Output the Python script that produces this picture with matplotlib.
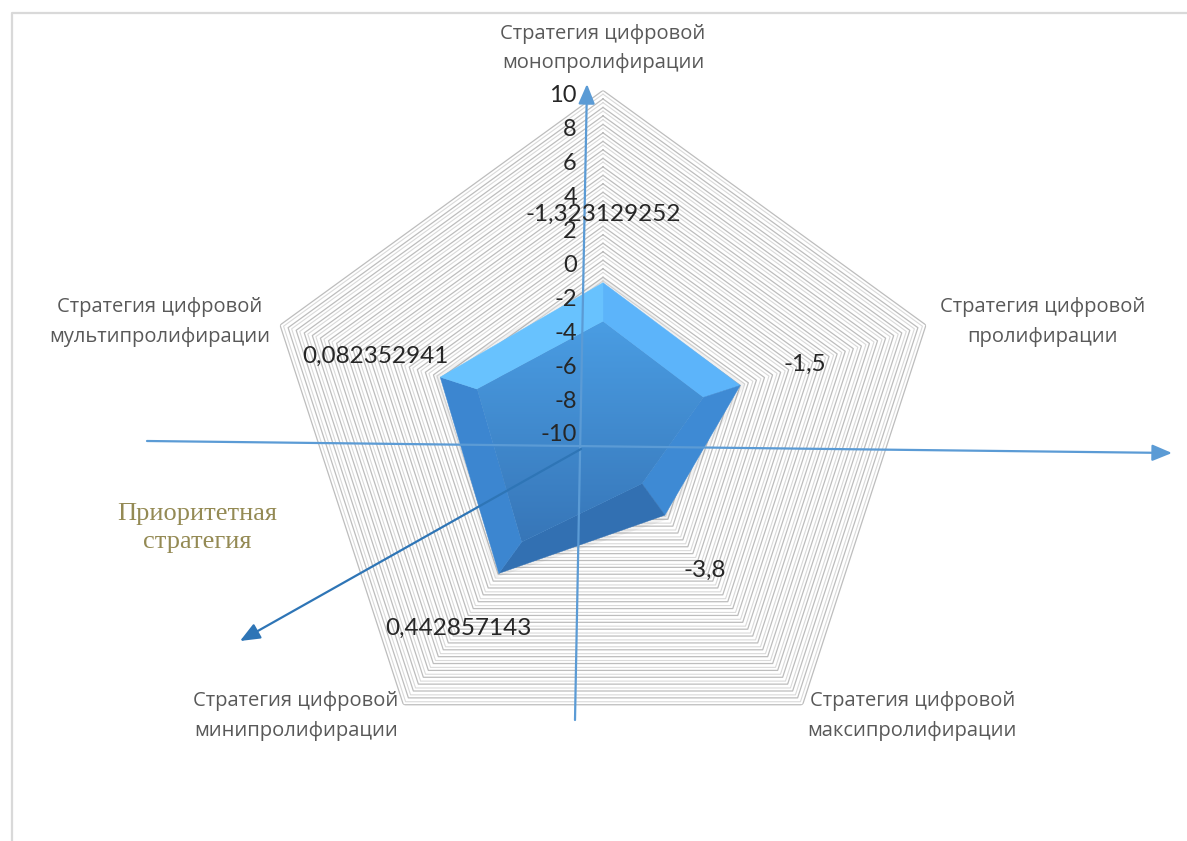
import numpy as np
import matplotlib
matplotlib.use('Agg')
import matplotlib.pyplot as plt
from matplotlib.colors import LinearSegmentedColormap

# ---------------- data ----------------
categories = ['Стратегия цифровой\nмонопролифирации',
              'Стратегия цифровой\nпролифирации',
              'Стратегия цифровой\nмаксипролифирации',
              'Стратегия цифровой\nминипролифирации',
              'Стратегия цифровой\nмультипролифирации']
values = [-1.323129252, -1.5, -3.8, 0.442857143, 0.082352941]
value_labels = ['-1,323129252', '-1,5', '-3,8', '0,442857143', '0,082352941']
r_ticks = [10, 8, 6, 4, 2, 0, -2, -4, -6, -8, -10]
r_min, r_max = -10, 10
note_text = 'Приоритетная\nстратегия'

# ---------------- figure ----------------
W, H = 1187, 841
fig = plt.figure(figsize=(W / 100, H / 100), dpi=100)
fig.patch.set_facecolor('white')

bg = fig.add_axes([0, 0, 1, 1])
bg.set_xlim(0, W); bg.set_ylim(H, 0); bg.axis('off')
bg.plot([12, 12, W + 5], [H + 5, 13, 13], color='#d9d9d9', lw=1.6)

# polar (radar) axes
cx, cy, R = 603, 430, 339.6
ax = fig.add_axes([(cx - R) / W, (H - cy - R) / H, 2 * R / W, 2 * R / H],
                  projection='polar')
ax.set_theta_offset(np.pi / 2)
ax.set_theta_direction(-1)
ax.set_ylim(r_min, r_max)
ax.set_xticks([]); ax.set_yticks([])
ax.grid(False)
ax.spines['polar'].set_visible(False)
ax.patch.set_alpha(0)

n = len(values)
theta = np.arange(n) * 2 * np.pi / n
theta_c = np.append(theta, 2 * np.pi)

# dense pentagon gridlines (with a light shadow line)
for lev in np.arange(r_min + 0.5, r_max + 0.01, 0.5):
    ax.plot(theta_c, [lev] * (n + 1), color='#bdbdbd', lw=0.9, zorder=1)
    ax.plot(theta_c, [lev - 0.22] * (n + 1), color='#dadada', lw=0.8, zorder=1)

# filled area with bevel
vals = np.array(values)
vals_c = np.append(vals, vals[0])
bevel = 2.3
inner_c = vals_c - bevel
ax.fill(theta_c, vals_c + 0.3, color='#8c8c8c', alpha=0.12, lw=0, zorder=2)
facet_colors = ['#5cb4fa', '#3e8ad4', '#3270b2', '#3c86d0', '#68c2fe']
for i in range(n):
    th = [theta_c[i], theta_c[i + 1], theta_c[i + 1], theta_c[i]]
    rr = [vals_c[i], vals_c[i + 1], inner_c[i + 1], inner_c[i]]
    ax.fill(th, rr, color=facet_colors[i], lw=0.3, ec=facet_colors[i], zorder=3)
inner_patch = ax.fill(theta_c, inner_c, color='#4390d8', lw=0, zorder=3)[0]

# ---------------- overlay: gradient, labels, arrows, note ----------------
top = fig.add_axes([0, 0, 1, 1])
top.set_xlim(0, W); top.set_ylim(H, 0); top.axis('off')
top.patch.set_alpha(0)

bb = inner_patch.get_window_extent()
grad = np.linspace(0, 1, 256).reshape(-1, 1)
cmap = LinearSegmentedColormap.from_list('g', ['#4a9de3', '#3776b8'])
im = top.imshow(grad, cmap=cmap, aspect='auto',
                extent=[bb.x0, bb.x1, H - bb.y0, H - bb.y1], zorder=0)
im.set_clip_path(inner_patch)

num_font = ['Lato', 'DejaVu Sans']

# value (data) labels
for t, v, lab in zip(theta, vals, value_labels):
    top.annotate(lab, xy=(t, v + 4.0), xycoords=ax.transData,
                 ha='center', va='center', fontsize=17.5,
                 family=num_font, color='#262626', zorder=6)

# radial tick labels
for v in r_ticks:
    top.annotate(str(v), xy=(0, v), xycoords=ax.transData,
                 xytext=(-26, -5), textcoords='offset pixels',
                 ha='right', va='center', fontsize=17,
                 family=num_font, color='#262626', zorder=6)

# category labels
cat_offsets = [(0, 42), (14, 3), (5, -11), (-5, -11), (-10, 3)]
cat_ha = ['center', 'left', 'left', 'right', 'right']
for t, lab, off, ha in zip(theta, categories, cat_offsets, cat_ha):
    top.annotate(lab, xy=(t, r_max), xycoords=ax.transData,
                 xytext=off, textcoords='offset pixels',
                 ha=ha, va='center', multialignment='center', fontsize=14.5,
                 family=['Open Sans', 'DejaVu Sans'], color='#595959',
                 linespacing=1.65, zorder=6)

def arrow(p0, p1, color):
    top.annotate('', xy=p1, xytext=p0,
                 arrowprops=dict(arrowstyle='-|>,head_length=0.6,head_width=0.25',
                                 color=color, lw=1.6, shrinkA=0, shrinkB=0,
                                 mutation_scale=20), zorder=5)

arrow((147, 441), (1172, 453), '#5b9bd5')
arrow((575, 720), (587, 84), '#5b9bd5')
arrow((581, 449), (240, 641), '#2e75b6')

top.text(197, 528, note_text, ha='center', va='center', fontsize=19,
         family=['Liberation Serif', 'DejaVu Serif'], color='#948a54',
         linespacing=1.3)

fig.savefig('out.png', dpi=100)
